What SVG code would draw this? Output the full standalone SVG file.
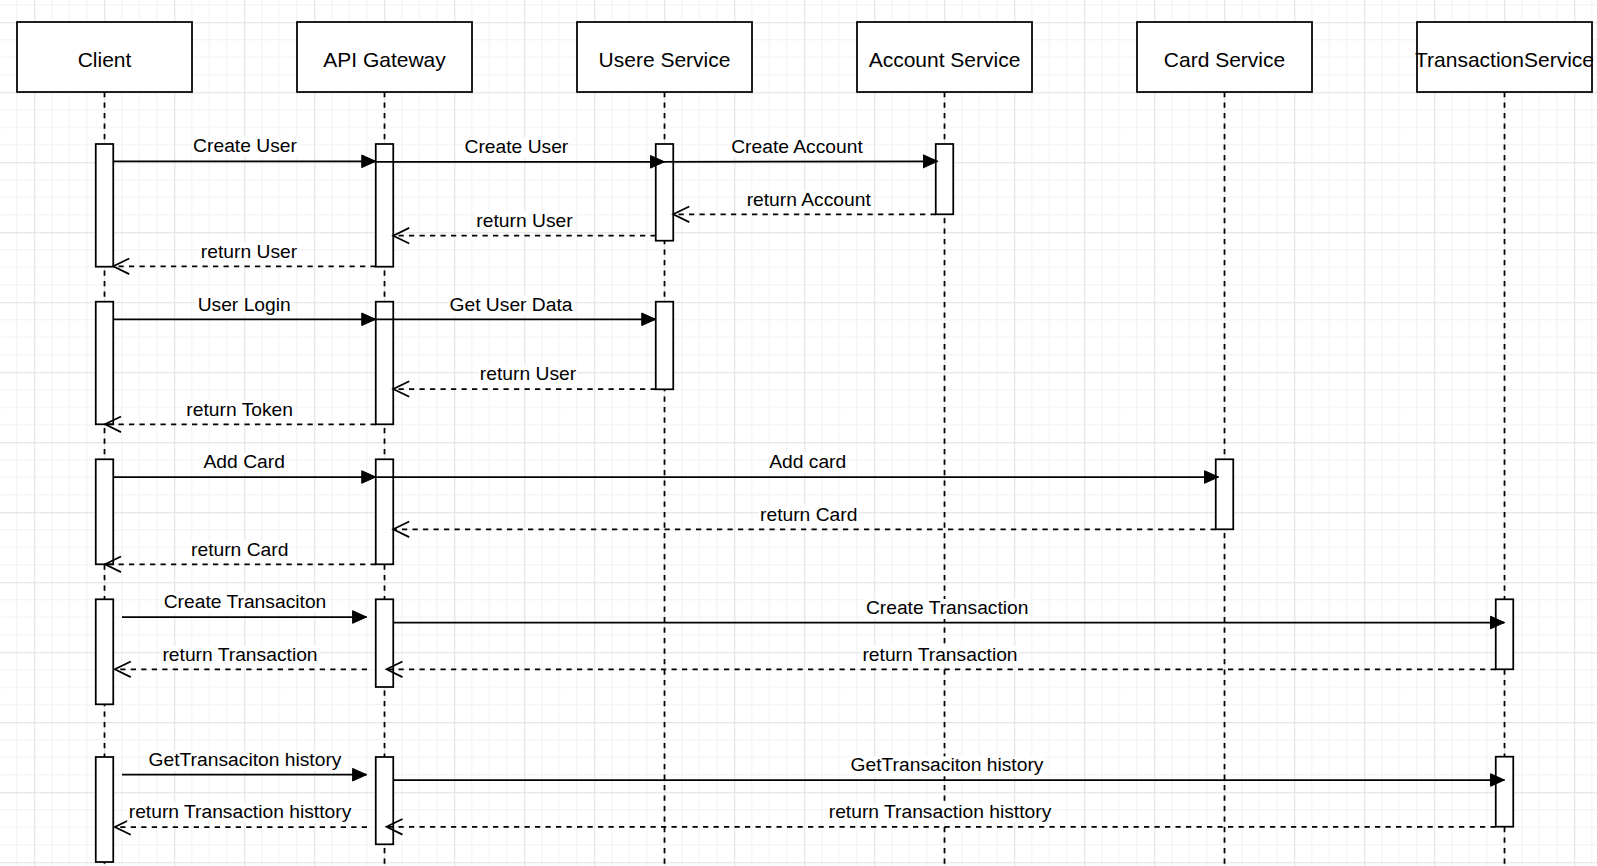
<svg xmlns="http://www.w3.org/2000/svg" width="1597" height="866" viewBox="0 0 1597 866">
<style>
.box{fill:#fff;stroke:#000;stroke-width:1.75}
.bar{fill:#fff;stroke:#000;stroke-width:1.75}
.life{stroke:#000;stroke-width:1.75;stroke-dasharray:5.25 5.25;fill:none}
.msg{stroke:#000;stroke-width:1.75;fill:none;marker-end:url(#block)}
.ret{stroke:#000;stroke-width:1.75;fill:none;stroke-dasharray:5.25 5.25;marker-end:url(#open)}
.nt{font-family:"Liberation Sans",Arial,sans-serif;font-size:21px;text-anchor:middle;fill:#000}
.lt{font-family:"Liberation Sans",Arial,sans-serif;font-size:19.25px;text-anchor:middle;fill:#000}
.lbg{fill:#fff}
</style>
<defs>
<pattern id="grid" patternUnits="userSpaceOnUse" x="34.3" y="22.3" width="70" height="70">
<path d="M17.5,0V70M35,0V70M52.5,0V70M0,17.5H70M0,35H70M0,52.5H70" stroke="#f1f1f1" stroke-width="1" fill="none"/>
<path d="M0.5,0V70M0,0.5H70" stroke="#e0e0e0" stroke-width="1" fill="none"/>
</pattern>
<marker id="block" markerUnits="userSpaceOnUse" markerWidth="16" markerHeight="14" refX="14" refY="6.3" orient="auto" overflow="visible">
<path d="M0,0L14,6.3L0,12.6Z" fill="#000" stroke="#000" stroke-width="1"/>
</marker>
<marker id="open" markerUnits="userSpaceOnUse" markerWidth="18" markerHeight="18" refX="16" refY="7.8" orient="auto" overflow="visible">
<path d="M0,0L16,7.8L0,15.6" fill="none" stroke="#000" stroke-width="1.75"/>
</marker>
</defs>
<rect x="0" y="0" width="1597" height="866" fill="#fff"/>
<rect x="0" y="0" width="1597" height="866" fill="url(#grid)"/>

<g id="lifelines">
<path class="life" d="M104.5,92V866M384.5,92V866M664.5,92V866M944.5,92V866M1224.5,92V866M1504.5,92V866"/>
</g>

<g id="client">
<rect class="box" x="17" y="22" width="175" height="70"/>
<text class="nt" x="104.5" y="66.5">Client</text>
<rect class="bar" x="95.75" y="144" width="17.5" height="122.7"/>
<rect class="bar" x="95.75" y="301.7" width="17.5" height="122.6"/>
<rect class="bar" x="95.75" y="459.3" width="17.5" height="105"/>
<rect class="bar" x="95.75" y="599.3" width="17.5" height="105"/>
<rect class="bar" x="95.75" y="757" width="17.5" height="105"/>
</g>
<g id="api-gateway">
<rect class="box" x="297" y="22" width="175" height="70"/>
<text class="nt" x="384.5" y="66.5">API Gateway</text>
<rect class="bar" x="375.75" y="144" width="17.5" height="122.7"/>
<rect class="bar" x="375.75" y="301.7" width="17.5" height="122.6"/>
<rect class="bar" x="375.75" y="459.3" width="17.5" height="105"/>
<rect class="bar" x="375.75" y="599.3" width="17.5" height="87.7"/>
<rect class="bar" x="375.75" y="757" width="17.5" height="87.3"/>
</g>
<g id="user-service">
<rect class="box" x="577" y="22" width="175" height="70"/>
<text class="nt" x="664.5" y="66.5">Usere Service</text>
<rect class="bar" x="655.75" y="144" width="17.5" height="96.7"/>
<rect class="bar" x="655.75" y="301.7" width="17.5" height="87.6"/>
</g>
<g id="account-service">
<rect class="box" x="857" y="22" width="175" height="70"/>
<text class="nt" x="944.5" y="66.5">Account Service</text>
<rect class="bar" x="935.75" y="144" width="17.5" height="70.3"/>
</g>
<g id="card-service">
<rect class="box" x="1137" y="22" width="175" height="70"/>
<text class="nt" x="1224.5" y="66.5">Card Service</text>
<rect class="bar" x="1215.75" y="459.3" width="17.5" height="70"/>
</g>
<g id="transaction-service">
<rect class="box" x="1417" y="22" width="175" height="70"/>
<text class="nt" x="1504.5" y="66.5">TransactionService</text>
<rect class="bar" x="1495.75" y="599.3" width="17.5" height="70"/>
<rect class="bar" x="1495.75" y="756.7" width="17.5" height="70"/>
</g>

<g id="connectors">
<path class="msg" d="M113.25,161.3H375.75"/>
<path class="msg" d="M375.75,161.8H664.5"/>
<path class="msg" d="M655.75,161.8L937.5,161.3"/>
<path class="ret" d="M935.75,214.3H673.25"/>
<path class="ret" d="M655.75,235.7H393.25"/>
<path class="ret" d="M375.75,266.3H113.25"/>

<path class="msg" d="M113.25,319.3H375.75"/>
<path class="msg" d="M375.75,319.3H655.75"/>
<path class="ret" d="M655.75,389H393.25"/>
<path class="ret" d="M375.75,424.3H105"/>

<path class="msg" d="M113.25,477H375.75"/>
<path class="msg" d="M375.75,477H1218.5"/>
<path class="ret" d="M1215.75,529.3H393.25"/>
<path class="ret" d="M375.75,564.3H105"/>

<path class="msg" d="M122,617H366.6"/>
<path class="msg" d="M393.25,622.5H1504.5"/>
<path class="ret" d="M1495.75,669.3H386.5"/>
<path class="ret" d="M367,669.3H114.8"/>

<path class="msg" d="M122,774.7H366.6"/>
<path class="msg" d="M393.25,780H1504.5"/>
<path class="ret" d="M1495.75,826.8H386.5"/>
<path class="ret" d="M367,827H114.8"/>

<g id="labels">
<rect class="lbg" x="192" y="136.7" width="106" height="20"/><text class="lt" x="245" y="151.7">Create User</text>
<rect class="lbg" x="463.5" y="137.5" width="106" height="20"/><text class="lt" x="516.4" y="152.5">Create User</text>
<rect class="lbg" x="729.6" y="137.5" width="134.7" height="20"/><text class="lt" x="797" y="152.5">Create Account</text>
<rect class="lbg" x="745.1" y="190.5" width="127.2" height="20"/><text class="lt" x="808.7" y="205.5">return Account</text>
<rect class="lbg" x="475.3" y="211.7" width="98.3" height="20"/><text class="lt" x="524.5" y="226.7">return User</text>
<rect class="lbg" x="199.8" y="242.5" width="98.3" height="20"/><text class="lt" x="249" y="257.5">return User</text>

<rect class="lbg" x="196.6" y="295.5" width="95.1" height="20"/><text class="lt" x="244.2" y="310.5">User Login</text>
<rect class="lbg" x="448.5" y="295.5" width="125" height="20"/><text class="lt" x="511" y="310.5">Get User Data</text>
<rect class="lbg" x="478.8" y="365.3" width="98.3" height="20"/><text class="lt" x="528" y="380.3">return User</text>
<rect class="lbg" x="184.1" y="400.5" width="111.1" height="20"/><text class="lt" x="239.7" y="415.5">return Token</text>

<rect class="lbg" x="202.5" y="453" width="83.3" height="20"/><text class="lt" x="244.2" y="468">Add Card</text>
<rect class="lbg" x="768.2" y="453" width="79" height="20"/><text class="lt" x="807.7" y="468">Add card</text>
<rect class="lbg" x="759.1" y="505.5" width="99.3" height="20"/><text class="lt" x="808.7" y="520.5">return Card</text>
<rect class="lbg" x="190.1" y="540.5" width="99.3" height="20"/><text class="lt" x="239.7" y="555.5">return Card</text>

<rect class="lbg" x="162.2" y="593.3" width="165.7" height="20"/><text class="lt" x="245" y="608.3">Create Transaciton</text>
<rect class="lbg" x="864.4" y="599" width="165.7" height="20"/><text class="lt" x="947.2" y="614">Create Transaction</text>
<rect class="lbg" x="860.9" y="645.7" width="158.2" height="20"/><text class="lt" x="940" y="660.7">return Transaction</text>
<rect class="lbg" x="160.9" y="645.7" width="158.2" height="20"/><text class="lt" x="240" y="660.7">return Transaction</text>

<rect class="lbg" x="147.2" y="751" width="195.6" height="20"/><text class="lt" x="245" y="766">GetTransaciton history</text>
<rect class="lbg" x="849.2" y="756.3" width="195.6" height="20"/><text class="lt" x="947" y="771.3">GetTransaciton history</text>
<rect class="lbg" x="827.2" y="803" width="225.6" height="20"/><text class="lt" x="940" y="818">return Transaction histtory</text>
<rect class="lbg" x="127.2" y="803" width="225.6" height="20"/><text class="lt" x="240" y="818">return Transaction histtory</text>
</g>
</g>
</svg>
